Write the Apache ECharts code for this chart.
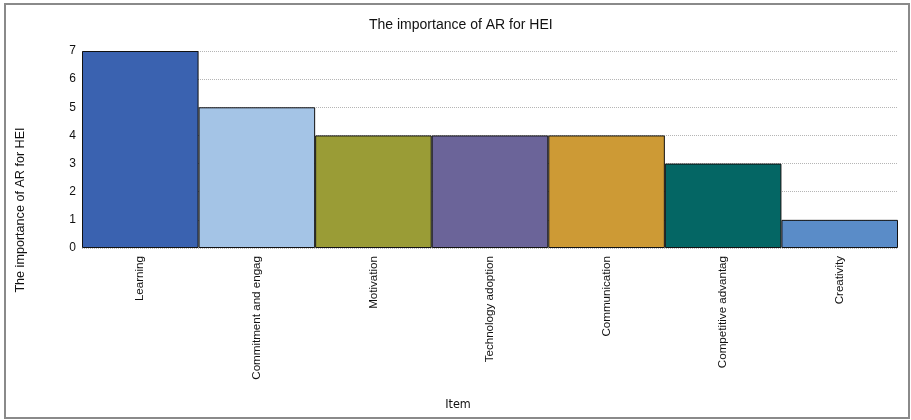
<!DOCTYPE html>
<html>
<head>
<meta charset="utf-8">
<script src="https://cdn.jsdelivr.net/npm/echarts@6/dist/echarts.min.js"></script>
<style>
html,body{margin:0;padding:0;background:#fff;}
#chart{width:911px;height:420px;}
</style>
</head>
<body>
<div id="chart"></div>
<script>
// Items and their counts
const items = ['Learning', 'Commitment and engag', 'Motivation', 'Technology adoption', 'Communication', 'Competitive advantag', 'Creativity'];
const counts = [7, 5, 4, 4, 4, 3, 1];
const barColors = ['#3A62B0', '#A4C4E6', '#9A9C36', '#6B6499', '#CD9A35', '#046664', '#5A8CC8'];
const yTicks = [0, 1, 2, 3, 4, 5, 6, 7];

const titleText = 'The importance of AR for HEI';
const xName = 'Item';
const font = 'Liberation Sans, Arial, sans-serif';

const chart = echarts.init(document.getElementById('chart'), null, { renderer: 'canvas' });
chart.setOption({
  animation: false,
  backgroundColor: '#fff',
  title: {
    text: titleText,
    left: 364,
    top: 13,
    textStyle: { fontFamily: font, fontSize: 14, fontWeight: 'normal', color: '#111' }
  },
  grid: { left: 82, right: 13, top: 51, bottom: 172, containLabel: false },
  xAxis: {
    type: 'category',
    data: items,
    axisLine: { show: false },
    axisTick: { show: false },
    axisLabel: { rotate: 90, fontFamily: font, fontSize: 11.6, color: '#111', margin: 8, interval: 0 }
  },
  yAxis: {
    type: 'value',
    min: yTicks[0],
    max: yTicks[yTicks.length - 1],
    interval: 1,
    axisLine: { show: false },
    axisTick: { show: false },
    axisLabel: { fontFamily: font, fontSize: 12, color: '#111', margin: 6 },
    splitLine: { show: true, lineStyle: { color: '#b5b5b5', type: [1, 1], width: 1 } }
  },
  graphic: [
    {
      type: 'rect',
      shape: { x: 5, y: 4, width: 904, height: 414 },
      style: { fill: 'none', stroke: '#8a8a8a', lineWidth: 2 },
      silent: true
    },
    {
      type: 'text',
      x: 21,
      y: 210,
      rotation: Math.PI / 2,
      style: {
        text: titleText,
        fontFamily: font,
        fontSize: 12.6,
        fill: '#111',
        align: 'center',
        verticalAlign: 'middle'
      }
    },
    {
      type: 'text',
      x: 458,
      y: 405,
      style: {
        text: xName,
        fontFamily: 'Liberation Sans Narrow, DejaVu Sans Condensed, Arial, sans-serif',
        fontSize: 12.5,
        fill: '#111',
        align: 'center',
        verticalAlign: 'middle'
      }
    }
  ],
  series: [{
    type: 'bar',
    data: counts.map((v, i) => ({ value: v, itemStyle: { color: barColors[i] } })),
    barCategoryGap: 0,
    itemStyle: { borderColor: '#111', borderWidth: 1 }
  }]
});
</script>
</body>
</html>
